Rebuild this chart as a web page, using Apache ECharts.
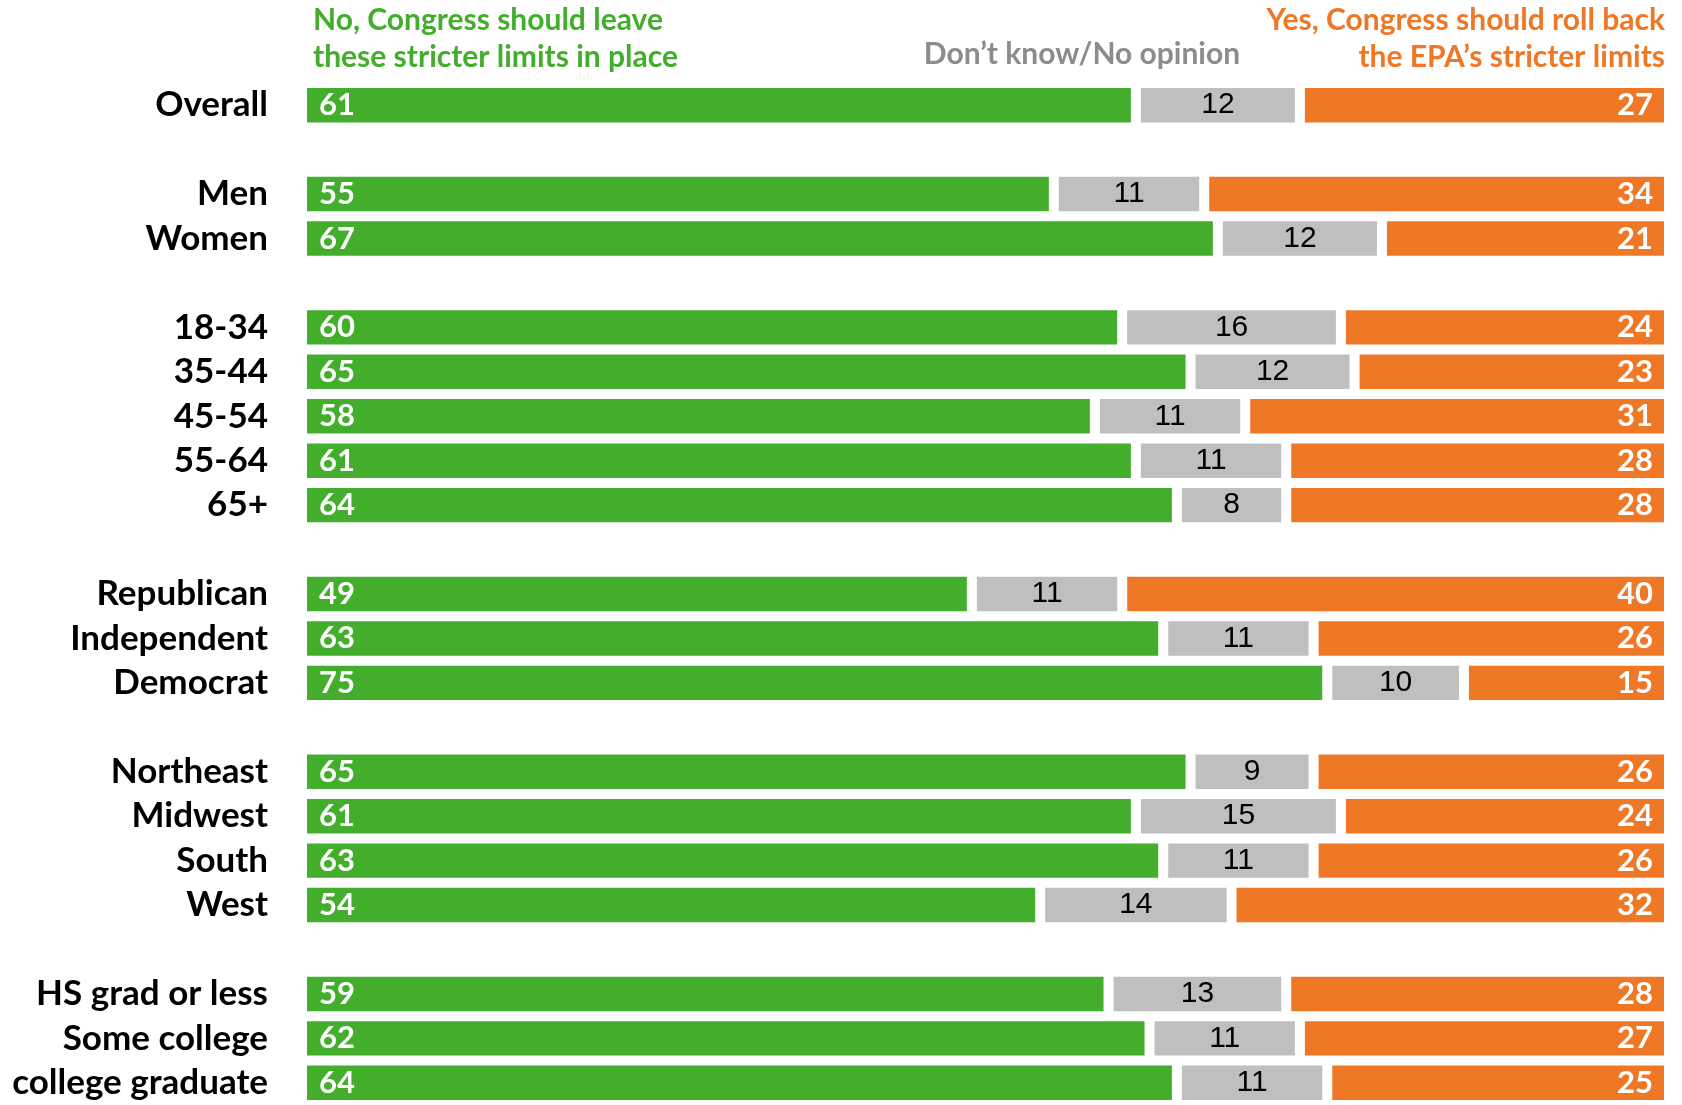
<!DOCTYPE html>
<html>
<head>
<meta charset="utf-8">
<script src="https://cdn.jsdelivr.net/npm/echarts@6/dist/echarts.min.js"></script>
<style>
html,body{margin:0;padding:0;background:#fff;}
#chart{width:1682px;height:1105px;}
</style>
</head>
<body>
<div id="chart"></div>
<script>
// Categories (blank strings are spacer rows between groups)
const categories = ['Overall', '', 'Men', 'Women', '', '18-34', '35-44', '45-54', '55-64', '65+', '',
  'Republican', 'Independent', 'Democrat', '', 'Northeast', 'Midwest', 'South', 'West', '',
  'HS grad or less', 'Some college', 'college graduate'];
const leaveLimits = [61, null, 55, 67, null, 60, 65, 58, 61, 64, null, 49, 63, 75, null, 65, 61, 63, 54, null, 59, 62, 64];
const dontKnow    = [12, null, 11, 12, null, 16, 12, 11, 11, 8, null, 11, 11, 10, null, 9, 15, 11, 14, null, 13, 11, 11];
const rollBack    = [27, null, 34, 21, null, 24, 23, 31, 28, 28, null, 40, 26, 15, null, 26, 24, 26, 32, null, 28, 27, 25];
const headerLeave = ['No, Congress should leave', 'these stricter limits in place'];
const headerDontKnow = ['Don\u2019t know/No opinion'];
const headerRollBack = ['Yes, Congress should roll back', 'the EPA\u2019s stricter limits'];

const GREEN = '#43ad2c', GRAY = '#bfbfbf', ORANGE = '#ef7826';
const chart = echarts.init(document.getElementById('chart'));
const fmt = p => (p.value == null ? '' : String(p.value));
const headFont = 'bold 30px Lato';

function headerText(txt, x, y, align, fill) {
  return { type: 'text', x: x, y: y, style: { text: txt, fill: fill, font: headFont, align: align, verticalAlign: 'middle' } };
}

chart.setOption({
  animation: false,
  backgroundColor: '#fff',
  grid: { left: 302, top: 83, width: 1367, height: 1029, containLabel: false },
  xAxis: { type: 'value', min: 0, max: 100, show: false },
  yAxis: {
    type: 'category', data: categories, inverse: true,
    axisLine: { show: false }, axisTick: { show: false }, splitLine: { show: false },
    axisLabel: { interval: 0, hideOverlap: false, color: '#000', fontFamily: 'Lato', fontWeight: 'bold', fontSize: 35, margin: 34 }
  },
  series: [
    {
      name: headerLeave.join(' '), type: 'bar', stack: 'all', data: leaveLimits, barCategoryGap: '0%',
      itemStyle: { color: GREEN, borderColor: '#fff', borderWidth: 5 },
      label: { show: true, position: 'insideLeft', distance: 17, formatter: fmt,
        color: '#fff', fontFamily: 'Lato', fontWeight: 'bold', fontSize: 31 }
    },
    {
      name: headerDontKnow[0], type: 'bar', stack: 'all', data: dontKnow, barCategoryGap: '0%',
      itemStyle: { color: GRAY, borderColor: '#fff', borderWidth: 5 },
      label: { show: true, position: 'inside', formatter: fmt,
        color: '#000', fontFamily: 'Liberation Sans', fontWeight: 'normal', fontSize: 30 }
    },
    {
      name: headerRollBack.join(' '), type: 'bar', stack: 'all', data: rollBack, barCategoryGap: '0%',
      itemStyle: { color: ORANGE, borderColor: '#fff', borderWidth: 5 },
      label: { show: true, position: 'insideRight', distance: 16, formatter: fmt,
        color: '#fff', fontFamily: 'Lato', fontWeight: 'bold', fontSize: 31 }
    }
  ],
  graphic: [
    headerText(headerLeave[0], 313, 20, 'left', GREEN),
    headerText(headerLeave[1], 313, 57, 'left', GREEN),
    headerText(headerDontKnow[0], 1082, 54, 'center', '#8c8c8c'),
    headerText(headerRollBack[0], 1665, 20, 'right', ORANGE),
    headerText(headerRollBack[1], 1665, 57, 'right', ORANGE)
  ]
});
</script>
</body>
</html>
